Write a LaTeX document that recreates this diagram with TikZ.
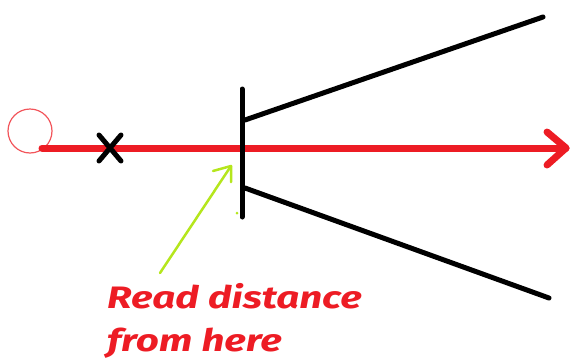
\documentclass[tikz,border=0pt]{standalone}
\usepackage{fontspec}
\usetikzlibrary{calc}
\setmainfont{Fira Sans}
\definecolor{pred}{HTML}{ED1C24}
\definecolor{pgreen}{HTML}{B5E61D}
\begin{document}
\begin{tikzpicture}[x=1pt,y=-1pt,
  blk/.style={draw=black,line width=5pt,line cap=round},
  redline/.style={draw=pred,line width=7pt,line cap=round,line join=round},
  grn/.style={draw=pgreen,line width=2.5pt,line cap=round,line join=round},
  lbl/.style={text=pred,font=\fontsize{31}{43}\selectfont\bfseries\itshape,align=left,inner sep=0pt,anchor=north west}]
\useasboundingbox (0,0) rectangle (570,359);
% start circle
\node[draw=pred!75,line width=1.2pt,circle,minimum size=44pt,inner sep=0pt] (src) at (30,131) {};
% red arrow line
\coordinate (rs) at (42,148);
\coordinate (re) at (566,148);
\draw[redline] (rs) -- (re);
\coordinate (h1) at (547,132);
\coordinate (h2) at (547,165);
\draw[redline] (h1) -- (re) -- (h2);
% black X
\coordinate (x0) at (110,148);
\draw[blk] ($(x0)+(-11,-13)$) -- ($(x0)+(11,13)$);
\draw[blk] ($(x0)+(11,-13)$) -- ($(x0)+(-11,13)$);
% lens/aperture
\coordinate (vt) at (242,89);
\coordinate (vb) at (242,217);
\draw[blk] (vt) -- (vb);
\coordinate (ua) at (245,120);
\coordinate (ub) at (543,17);
\draw[blk] (ua) -- (ub);
\coordinate (la) at (245,188);
\coordinate (lb) at (549,298);
\draw[blk] (la) -- (lb);
% green arrow
\coordinate (gt) at (160,273);
\coordinate (gh) at (231,166);
\draw[grn] (gt) -- (gh);
\draw[grn] (213,171) -- (gh) -- (231,182);
\fill[pgreen] (237,213) circle (1.5pt);
% label
\node[lbl] (txt) at (107,283) {\scalebox{1.3}[1]{Read distance}\\\scalebox{1.3}[1]{from here}};
\end{tikzpicture}
\end{document}
